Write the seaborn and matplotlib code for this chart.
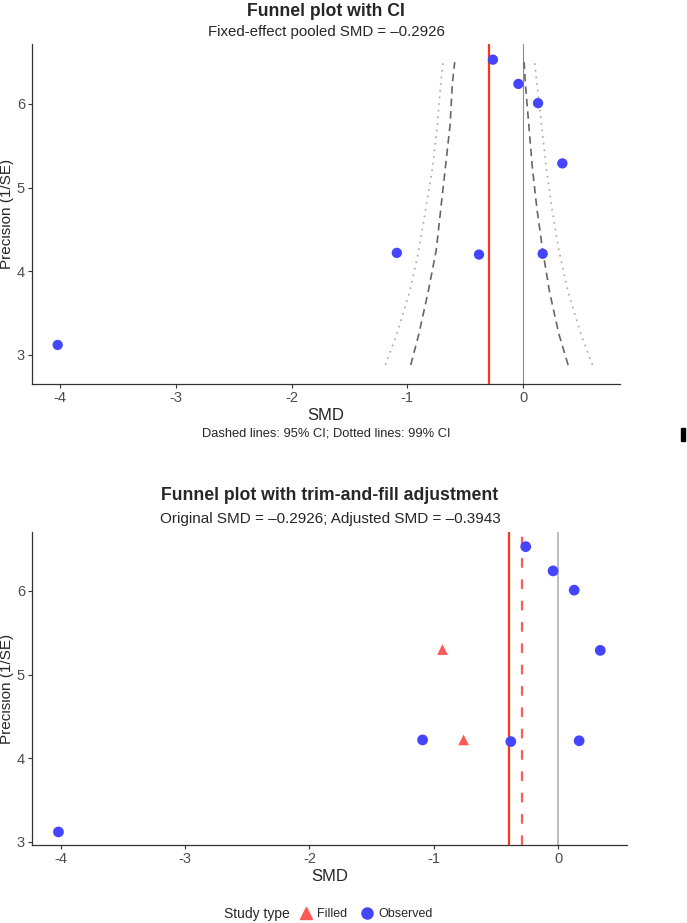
import numpy as np
import pandas as pd
import seaborn as sns
import matplotlib
matplotlib.use("Agg")
import matplotlib.pyplot as plt
from matplotlib.lines import Line2D
from matplotlib.patches import Rectangle

# observed studies
smd = [-4.02, -1.09, -0.38, 0.17, 0.34, 0.13, -0.04, -0.26]
precision = [3.12, 4.22, 4.20, 4.21, 5.29, 6.01, 6.24, 6.53]

# trim-and-fill imputed studies
filled_smd = [-0.93, -0.76]
filled_precision = [5.30, 4.22]

pooled_smd = -0.2926
adjusted_smd = -0.3943

# funnel limits read at a few precision levels
funnel_prec = [2.88, 3.25, 3.75, 4.25, 4.75, 5.25, 5.75, 6.25, 6.50]
lo95 = [-0.97, -0.90, -0.82, -0.75, -0.71, -0.67, -0.63, -0.61, -0.59]
hi95 = [0.39, 0.31, 0.23, 0.17, 0.12, 0.08, 0.05, 0.02, 0.01]
lo99 = [-1.19, -1.09, -0.98, -0.90, -0.84, -0.78, -0.74, -0.71, -0.69]
hi99 = [0.60, 0.50, 0.39, 0.31, 0.25, 0.20, 0.16, 0.12, 0.10]

study_types = ["Filled", "Observed"]

sns.set_style("white")
plt.rcParams["font.family"] = ["Liberation Sans", "DejaVu Sans"]

BLUE = "#4545FF"
RED = "#F5391A"
LIGHTRED = "#FF5A5A"

fig = plt.figure(figsize=(6.87, 9.23), dpi=100)
W, H = 687, 923


def px_axes(l, t, r, b):
    return fig.add_axes([l / W, 1 - b / H, (r - l) / W, (b - t) / H])


def style_axes(ax):
    sns.despine(ax=ax)
    for s in ["left", "bottom"]:
        ax.spines[s].set_color("#333333")
        ax.spines[s].set_linewidth(0.9)
    ax.tick_params(axis="both", length=3, width=0.8, color="#333333",
                   labelcolor="#4D4D4D", labelsize=10.5, pad=2, bottom=True, left=True)
    ax.set_xticks([-4, -3, -2, -1, 0])
    ax.set_xticklabels(["-4", "-3", "-2", "-1", "0"])
    ax.set_yticks([3, 4, 5, 6])
    ax.set_xlabel("SMD", fontsize=12, labelpad=2)
    ax.set_ylabel("Precision (1/SE)", fontsize=11, labelpad=2)


# ---------- top: funnel with CI ----------
ax1 = px_axes(32, 44, 620, 384)
ax1.axvline(0, color="#8C8C8C", lw=0.8, zorder=1)
for xs, dash, col in [(lo95, (4.5, 3.0), "#666666"), (hi95, (4.5, 3.0), "#666666"),
                      (lo99, (1.0, 3.0), "#A8A8A8"), (hi99, (1.0, 3.0), "#A8A8A8")]:
    sns.lineplot(x=xs, y=funnel_prec, sort=False, estimator=None, ax=ax1,
                 color=col, lw=1.2, dashes=dash, zorder=2)
ax1.axvline(pooled_smd, color=RED, lw=1.6, zorder=3)
sns.scatterplot(x=smd, y=precision, ax=ax1, color=BLUE, s=55, edgecolor="none", zorder=4)
ax1.set_xlim(-4.242, 0.838)
ax1.set_ylim(2.653, 6.717)
style_axes(ax1)

fig.text(326 / W, 1 - 11 / H, "Funnel plot with CI", ha="center", va="center",
         fontsize=12.7, fontweight="bold")
fig.text(326 / W, 1 - 32 / H, "Fixed-effect pooled SMD = \u20130.2926", ha="center",
         va="center", fontsize=10.8)
fig.text(326 / W, 1 - 433 / H, "Dashed lines: 95% CI; Dotted lines: 99% CI", ha="center",
         va="center", fontsize=9.3)

# ---------- bottom: trim-and-fill ----------
tf = pd.DataFrame({
    "smd": filled_smd + smd,
    "precision": filled_precision + precision,
    "type": ["Filled"] * len(filled_smd) + ["Observed"] * len(smd),
})

ax2 = px_axes(32, 532, 627, 845)
ax2.axvline(0, color="#BDBDBD", lw=1.4, zorder=1)
ax2.axvline(adjusted_smd, color=RED, lw=1.6, zorder=3)
ax2.axvline(pooled_smd, color=LIGHTRED, lw=1.6, dashes=(4.3, 5.3), zorder=3)
sns.scatterplot(data=tf, x="smd", y="precision", hue="type", style="type",
                hue_order=study_types, style_order=study_types,
                palette={"Filled": LIGHTRED, "Observed": BLUE},
                markers={"Filled": "^", "Observed": "o"},
                s=60, edgecolor="none", ax=ax2, legend=False, zorder=4)
ax2.set_xlim(-4.233, 0.555)
ax2.set_ylim(2.964, 6.705)
style_axes(ax2)

fig.text(330 / W, 1 - 496 / H, "Funnel plot with trim-and-fill adjustment", ha="center",
         va="center", fontsize=12.7, fontweight="bold")
fig.text(330 / W, 1 - 519 / H, "Original SMD = \u20130.2926; Adjusted SMD = \u20130.3943",
         ha="center", va="center", fontsize=11)

# legend at the bottom
fig.text(290 / W, 1 - 914 / H, "Study type", ha="right", va="center", fontsize=10)
handles = [Line2D([], [], marker="^", ls="none", color=LIGHTRED, markersize=8.5),
           Line2D([], [], marker="o", ls="none", color=BLUE, markersize=8)]
fig.legend(handles, study_types, loc="center left", bbox_to_anchor=(298 / W, 1 - 914 / H),
           ncol=2, frameon=False, fontsize=9, handletextpad=0.3, columnspacing=1.0,
           handlelength=1.2, borderpad=0, borderaxespad=0)

# small stray mark at the right edge
fig.patches.append(Rectangle((681 / W, 1 - 441 / H), 4 / W, 13 / H,
                             transform=fig.transFigure, color="black", zorder=5))

fig.savefig("out.png", dpi=100)
